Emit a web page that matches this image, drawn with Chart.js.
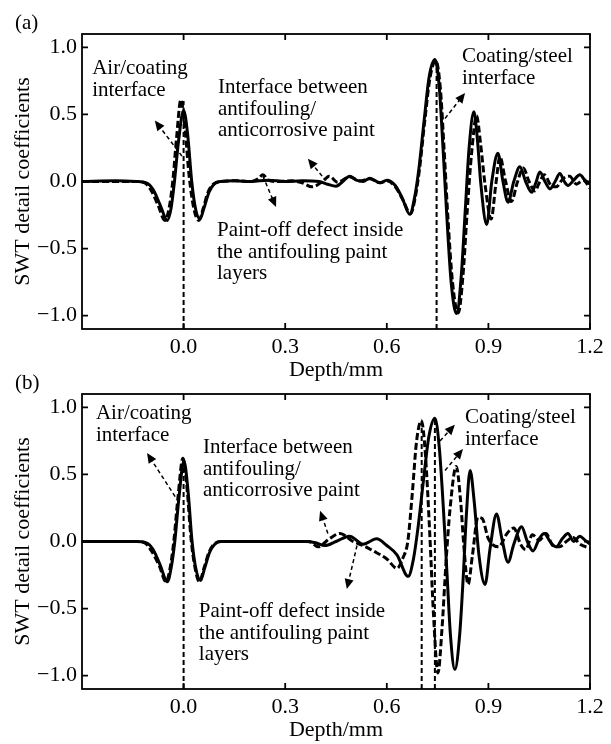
<!DOCTYPE html>
<html>
<head>
<meta charset="utf-8">
<title>SWT detail coefficients</title>
<script src="https://cdn.jsdelivr.net/npm/chart.js@4.4.1/dist/chart.umd.min.js"></script>
<style>
  body { margin: 0; background: #fff; }
  #wrap { position: relative; width: 611px; height: 744px; }
  canvas { position: absolute; left: 0; }
  #panelA { top: 0; }
  #panelB { top: 360px; }
</style>
</head>
<body>
<div id="wrap">
  <canvas id="panelA" width="611" height="384"></canvas>
  <canvas id="panelB" width="611" height="384"></canvas>
</div>
<script>
// axis ticks
const xTicks = [0.0, 0.3, 0.6, 0.9, 1.2];
const yTicks = [-1.0, -0.5, 0.0, 0.5, 1.0];

// (a) [depth mm, coefficient]
const solidA = [[-0.3,0],[-0.2,0.005],[-0.14,0],[-0.11,-0.01],[-0.09,-0.06],[-0.07,-0.17],[-0.048,-0.29],[-0.037,-0.2],[-0.027,0],[-0.015,0.3],[0,0.53],[0.012,0.35],[0.024,0],[0.035,-0.2],[0.048,-0.28],[0.06,-0.2],[0.075,-0.08],[0.09,-0.02],[0.11,0],[0.15,0.005],[0.2,0],[0.25,0.01],[0.3,0],[0.35,0.005],[0.4,0],[0.425,-0.02],[0.45,-0.035],[0.47,0],[0.49,0.04],[0.51,0.01],[0.53,0],[0.55,0.025],[0.58,-0.01],[0.6,0.01],[0.625,-0.03],[0.645,-0.12],[0.668,-0.245],[0.682,-0.12],[0.695,0.1],[0.71,0.45],[0.725,0.78],[0.742,0.91],[0.755,0.7],[0.766,0.25],[0.777,-0.25],[0.79,-0.75],[0.806,-0.985],[0.82,-0.7],[0.832,-0.2],[0.843,0.25],[0.857,0.52],[0.868,0.3],[0.877,0],[0.895,-0.32],[0.91,0],[0.928,0.21],[0.943,0],[0.958,-0.155],[0.975,0],[0.993,0.11],[1.01,0],[1.028,-0.08],[1.04,-0.01],[1.052,0.07],[1.067,0],[1.082,-0.055],[1.097,0],[1.111,0.06],[1.124,0],[1.135,-0.03],[1.152,0.01],[1.17,0.05],[1.185,0.01],[1.2,-0.02]];
const dashedA = [[-0.3,0],[-0.2,0],[-0.14,0],[-0.115,-0.01],[-0.095,-0.07],[-0.075,-0.18],[-0.055,-0.29],[-0.043,-0.2],[-0.032,0],[-0.021,0.32],[-0.008,0.61],[0.004,0.4],[0.016,0.05],[0.03,-0.2],[0.045,-0.29],[0.058,-0.2],[0.072,-0.08],[0.088,-0.02],[0.11,0],[0.16,0.005],[0.2,0],[0.22,0.02],[0.234,0.05],[0.25,0.01],[0.28,0],[0.32,0.005],[0.35,-0.01],[0.38,-0.04],[0.41,0],[0.43,0.04],[0.455,-0.005],[0.49,0.035],[0.52,0.005],[0.55,0.02],[0.58,-0.01],[0.6,0.005],[0.625,-0.04],[0.648,-0.14],[0.67,-0.24],[0.684,-0.12],[0.697,0.1],[0.712,0.45],[0.728,0.78],[0.745,0.9],[0.758,0.7],[0.769,0.25],[0.78,-0.25],[0.794,-0.75],[0.811,-0.98],[0.825,-0.7],[0.838,-0.2],[0.85,0.2],[0.865,0.49],[0.877,0.28],[0.89,-0.02],[0.908,-0.28],[0.922,-0.02],[0.934,0.185],[0.95,0.01],[0.968,-0.15],[0.985,-0.01],[1.003,0.1],[1.02,0],[1.037,-0.07],[1.052,0],[1.065,0.05],[1.085,-0.03],[1.1,-0.04],[1.12,0.02],[1.14,0.04],[1.16,-0.02],[1.18,0.01],[1.2,-0.05]];
const markerDepthA = [0.0, 0.747];
const markerTopA = [0.6, 0.9];

// (b)
const solidB = [[-0.3,0],[-0.2,0],[-0.14,0],[-0.11,-0.01],[-0.09,-0.06],[-0.07,-0.17],[-0.048,-0.3],[-0.037,-0.2],[-0.026,0],[-0.014,0.32],[0.001,0.6],[0.013,0.38],[0.025,0],[0.036,-0.2],[0.05,-0.29],[0.062,-0.2],[0.077,-0.08],[0.092,-0.02],[0.11,0],[0.2,0],[0.3,0],[0.36,0],[0.39,-0.01],[0.417,-0.03],[0.45,0],[0.49,0.04],[0.53,-0.02],[0.57,0.02],[0.6,-0.03],[0.63,-0.1],[0.663,-0.26],[0.678,-0.14],[0.692,0.1],[0.708,0.45],[0.724,0.78],[0.742,0.92],[0.755,0.7],[0.767,0.25],[0.778,-0.25],[0.788,-0.7],[0.801,-0.955],[0.815,-0.7],[0.826,-0.25],[0.835,0.2],[0.846,0.53],[0.858,0.3],[0.872,-0.1],[0.89,-0.32],[0.905,-0.05],[0.924,0.205],[0.94,0.02],[0.958,-0.155],[0.975,-0.02],[0.998,0.11],[1.015,0],[1.032,-0.07],[1.05,0.02],[1.065,0.06],[1.082,0],[1.1,-0.04],[1.118,0.02],[1.135,0.06],[1.152,0],[1.17,0.04],[1.185,0.01],[1.2,-0.02]];
const dashedB = [[-0.3,0],[-0.2,0],[-0.14,0],[-0.115,-0.01],[-0.095,-0.07],[-0.072,-0.18],[-0.052,-0.3],[-0.04,-0.2],[-0.029,0],[-0.017,0.32],[-0.002,0.62],[0.01,0.4],[0.022,0.02],[0.034,-0.2],[0.047,-0.3],[0.06,-0.2],[0.075,-0.08],[0.09,-0.02],[0.11,0],[0.2,0],[0.3,0],[0.37,0],[0.397,-0.04],[0.43,0.02],[0.462,0.06],[0.5,0],[0.53,-0.03],[0.56,-0.07],[0.6,-0.13],[0.63,-0.2],[0.648,-0.12],[0.662,0],[0.675,0.35],[0.688,0.75],[0.702,0.9],[0.714,0.65],[0.727,0.05],[0.738,-0.55],[0.751,-0.98],[0.763,-0.65],[0.775,-0.15],[0.787,0.25],[0.805,0.56],[0.818,0.3],[0.828,-0.05],[0.84,-0.32],[0.853,-0.1],[0.869,0.18],[0.882,0.17],[0.9,0.02],[0.93,-0.04],[0.955,0.06],[0.975,0.1],[0.995,-0.02],[1.01,-0.06],[1.03,0.05],[1.05,0.01],[1.07,0.06],[1.09,-0.03],[1.11,-0.04],[1.13,0],[1.15,0.03],[1.17,-0.02],[1.2,-0.05]];
const markerDepthB = [0.0, 0.703, 0.742];
const markerTopB = [0.62, 0.9, 0.92];

// callouts: text anchor (left, first baseline) and arrows tail -> head, in data units
const notesA = [
  { lines: ['Air/coating', 'interface'], at: [-0.27, 0.80], arrows: [[-0.005, 0.19, -0.085, 0.455]] },
  { lines: ['Interface between', 'antifouling/', 'anticorrosive paint'], at: [0.1015, 0.658], arrows: [[0.409, 0.04, 0.367, 0.17]] },
  { lines: ['Paint-off defect inside', 'the antifouling paint', 'layers'], at: [0.0986, -0.407], arrows: [[0.234, 0.04, 0.273, -0.19]] },
  { lines: ['Coating/steel', 'interface'], at: [0.822, 0.89], arrows: [[0.772, 0.47, 0.831, 0.66]] }
];
const notesB = [
  { lines: ['Air/coating', 'interface'], at: [-0.259, 0.913], arrows: [[-0.025, 0.335, -0.108, 0.66]] },
  { lines: ['Interface between', 'antifouling/', 'anticorrosive paint'], at: [0.057, 0.658], arrows: [[0.426, 0.06, 0.403, 0.23]] },
  { lines: ['Paint-off defect inside', 'the antifouling paint', 'layers'], at: [0.045, -0.565], arrows: [[0.512, -0.03, 0.482, -0.355]] },
  { lines: ['Coating/steel', 'interface'], at: [0.831, 0.883], arrows: [[0.757, 0.75, 0.801, 0.87], [0.772, 0.53, 0.825, 0.69]] }
];

const SERIF = "'Liberation Serif', 'Times New Roman', serif";
const Y_MIN = -1.1, Y_MAX = 1.1;

const fmt = v => (v < 0 ? '\u2212' + Math.abs(v).toFixed(1) : v.toFixed(1));
const toXY = pairs => pairs.map(p => ({ x: p[0], y: p[1] }));

function arrow(ctx, x1, y1, x2, y2) {
  const ang = Math.atan2(y2 - y1, x2 - x1);
  const len = 10, half = 4.5;
  ctx.setLineDash([4, 3]);
  ctx.beginPath();
  ctx.moveTo(x1, y1);
  ctx.lineTo(x2 - Math.cos(ang) * len * 0.8, y2 - Math.sin(ang) * len * 0.8);
  ctx.stroke();
  ctx.setLineDash([]);
  ctx.beginPath();
  ctx.moveTo(x2, y2);
  ctx.lineTo(x2 - len * Math.cos(ang) + half * Math.sin(ang), y2 - len * Math.sin(ang) - half * Math.cos(ang));
  ctx.lineTo(x2 - len * Math.cos(ang) - half * Math.sin(ang), y2 - len * Math.sin(ang) + half * Math.cos(ang));
  ctx.closePath();
  ctx.fill();
}

// box, inward ticks, callouts and panel letter
const decor = {
  id: 'decor',
  afterDatasetsDraw(chart, args, opts) {
    const { ctx, chartArea: a, scales: { x, y } } = chart;
    ctx.save();
    ctx.strokeStyle = '#000';
    ctx.fillStyle = '#000';
    ctx.lineWidth = 1.8;
    ctx.strokeRect(a.left, a.top, a.right - a.left, a.bottom - a.top);
    ctx.beginPath();
    xTicks.forEach(v => {
      const px = x.getPixelForValue(v);
      ctx.moveTo(px, a.bottom); ctx.lineTo(px, a.bottom - 6);
      ctx.moveTo(px, a.top); ctx.lineTo(px, a.top + 6);
    });
    yTicks.forEach(v => {
      const py = y.getPixelForValue(v);
      ctx.moveTo(a.left, py); ctx.lineTo(a.left + 6, py);
      ctx.moveTo(a.right, py); ctx.lineTo(a.right - 6, py);
    });
    ctx.stroke();

    ctx.font = '21px ' + SERIF;
    ctx.textAlign = 'left';
    ctx.textBaseline = 'alphabetic';
    ctx.lineWidth = 1.5;
    opts.notes.forEach(n => {
      const tx = x.getPixelForValue(n.at[0]);
      const ty = y.getPixelForValue(n.at[1]);
      n.lines.forEach((s, i) => ctx.fillText(s, tx, ty + i * 21.5));
      n.arrows.forEach(r => arrow(ctx,
        x.getPixelForValue(r[0]), y.getPixelForValue(r[1]),
        x.getPixelForValue(r[2]), y.getPixelForValue(r[3])));
    });

    ctx.font = '21px ' + SERIF;
    ctx.fillText(opts.label, 15, 29);
    ctx.restore();
  }
};

function makePanel(id, label, solid, dashed, markDepth, markTop, notes) {
  const markers = markDepth.map((d, i) => ({
    data: [{ x: d, y: Y_MIN }, { x: d, y: markTop[i] }],
    borderColor: '#000', borderWidth: 2, borderDash: [5, 3], pointRadius: 0, tension: 0
  }));
  return new Chart(document.getElementById(id), {
    type: 'line',
    data: {
      datasets: [
        { label: 'solid', data: toXY(solid), borderColor: '#000', borderWidth: 3, pointRadius: 0, cubicInterpolationMode: 'monotone' },
        { label: 'dashed', data: toXY(dashed), borderColor: '#000', borderWidth: 3, borderDash: [7, 3], pointRadius: 0, cubicInterpolationMode: 'monotone' },
        ...markers
      ]
    },
    options: {
      responsive: false,
      animation: false,
      devicePixelRatio: 1,
      layout: { padding: { left: 0, right: 21, top: 34, bottom: 0 } },
      plugins: {
        legend: { display: false },
        tooltip: { enabled: false },
        decor: { label: label, notes: notes }
      },
      scales: {
        x: {
          type: 'linear', min: -0.3, max: 1.2,
          afterBuildTicks: s => { s.ticks = xTicks.map(v => ({ value: v })); },
          afterFit: s => { s.height = 55; },
          grid: { display: false, drawTicks: false },
          border: { display: false },
          ticks: { padding: 5, color: '#000', font: { family: SERIF, size: 22 }, callback: v => fmt(v), maxRotation: 0 },
          title: { display: true, text: 'Depth/mm', color: '#000', font: { family: SERIF, size: 22 }, padding: { top: 0, bottom: 1 } }
        },
        y: {
          min: Y_MIN, max: Y_MAX,
          afterBuildTicks: s => { s.ticks = yTicks.map(v => ({ value: v })); },
          afterFit: s => { s.width = 82; },
          grid: { display: false, drawTicks: false },
          border: { display: false },
          ticks: { padding: 5, color: '#000', font: { family: SERIF, size: 22 }, callback: v => fmt(v) },
          title: { display: true, text: 'SWT detail coefficients', color: '#000', font: { family: SERIF, size: 22 }, padding: { top: 10, bottom: 0 } }
        }
      }
    },
    plugins: [decor]
  });
}

makePanel('panelA', '(a)', solidA, dashedA, markerDepthA, markerTopA, notesA);
makePanel('panelB', '(b)', solidB, dashedB, markerDepthB, markerTopB, notesB);
</script>
</body>
</html>
